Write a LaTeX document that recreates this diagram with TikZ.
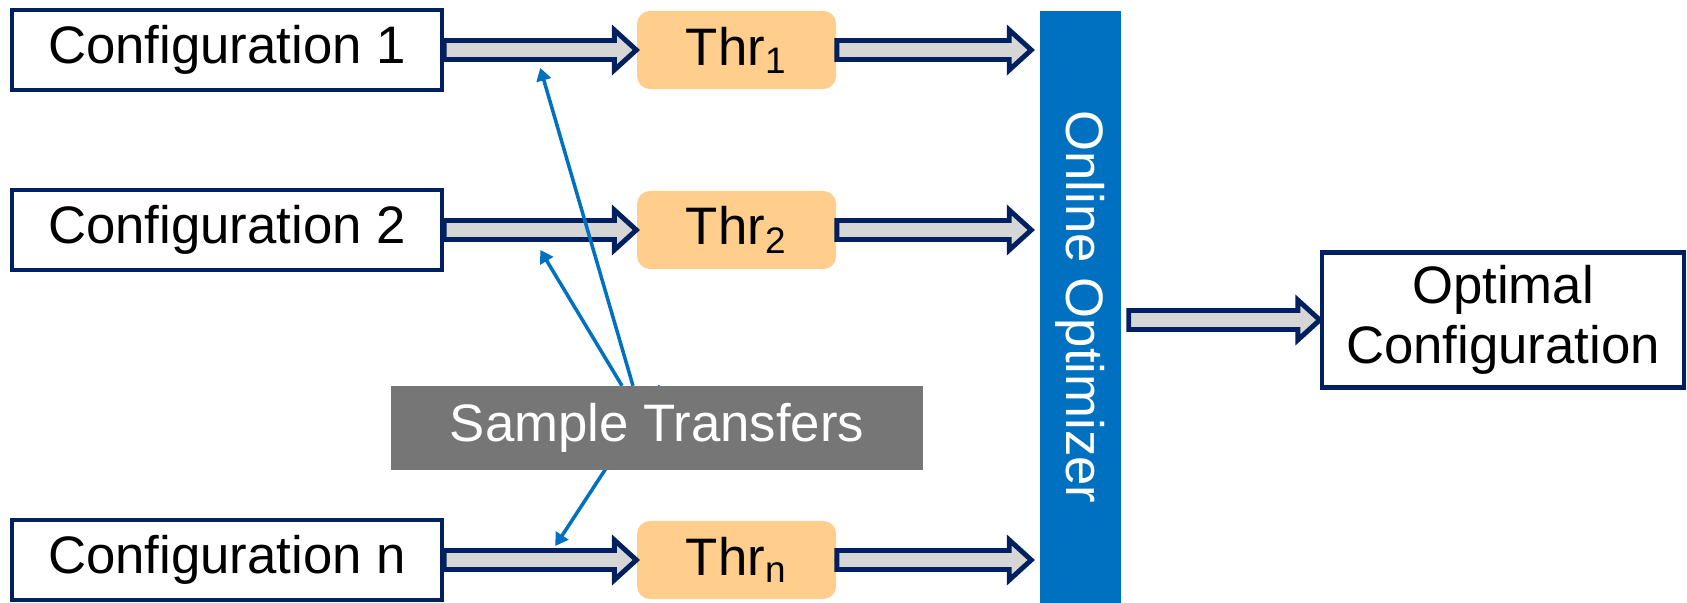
\documentclass[tikz,border=0pt]{standalone}
\usepackage{fontspec}
\setmainfont{Liberation Sans}
\usetikzlibrary{positioning,calc,arrows.meta}

\definecolor{navy}{RGB}{0,32,96}
\definecolor{shaft}{RGB}{214,214,214}
\definecolor{thrfill}{RGB}{255,205,140}
\definecolor{optblue}{RGB}{0,112,192}
\definecolor{samplegray}{RGB}{118,118,118}

% layer for the box that covers the transfer lines
\pgfdeclarelayer{front}
\pgfsetlayers{main,front}

% wide hollow arrow: #1 = start, #2 = tip (units are 0.01cm)
\newcommand{\fatarrow}[2]{%
  \draw[fatarrow] ($(#1)+(0,-9.5)$) -- ($(#2)+(-22,-9.5)$) -- ($(#2)+(-22,-20)$)
    -- (#2) -- ($(#2)+(-22,20)$) -- ($(#2)+(-22,9.5)$) -- ($(#1)+(0,9.5)$) -- cycle;
}

\begin{document}
\begin{tikzpicture}[x=0.01cm, y=-0.01cm, font=\fontsize{15}{17}\selectfont]
% Definition of blocks:
\tikzset{%
  config/.style    = {draw=navy, line width=1.2pt, fill=white, rectangle, minimum width=4.3cm, minimum height=0.8cm, inner sep=0pt},
  thr/.style       = {fill=thrfill, rectangle, rounded corners=0.13cm, minimum width=1.99cm, minimum height=0.78cm, inner sep=0pt},
  optbar/.style    = {fill=optblue, text=white, minimum width=0.81cm, minimum height=5.92cm, inner sep=0pt},
  sample/.style    = {fill=samplegray, text=white, minimum width=5.32cm, minimum height=0.83cm, inner sep=0pt},
  fatarrow/.style  = {draw=navy, fill=shaft, line width=1.4pt, line join=miter},
  transfer/.style  = {draw=optblue, line width=1pt, -{Triangle[length=3.6pt,width=4.2pt]}}
}
\useasboundingbox (0,0) rectangle (1687,603);

\node [config] (conf1) at (227,50) {Configuration 1};
\node [config] (conf2) at (227,230) {Configuration 2};
\node [config] (confn) at (227,560) {Configuration n};

\node [thr, right = 1.92cm of conf1] (thr1) {Thr\textsubscript{1}};
\node [thr, right = 1.92cm of conf2] (thr2) {Thr\textsubscript{2}};
\node [thr, right = 1.92cm of confn] (thrn) {Thr\textsubscript{n}};

\node [optbar] (opt) at (1080.5,307) {\rotatebox{-90}{Online Optimizer}};
\node [config, minimum width=3.62cm, minimum height=1.35cm, align=center] (best) at (1503,320) {Optimal\\Configuration};

% free ends next to the optimizer bar
\coordinate (in1) at ($(opt.west |- thr1.east)+(-8,0)$);
\coordinate (in2) at ($(opt.west |- thr2.east)+(-8,0)$);
\coordinate (inn) at ($(opt.west |- thrn.east)+(-8,0)$);
\coordinate (out) at ($(opt.east |- best.west)+(7,0)$);

\fatarrow{conf1.east}{thr1.west}
\fatarrow{conf2.east}{thr2.west}
\fatarrow{confn.east}{thrn.west}
\fatarrow{thr1.east}{in1}
\fatarrow{thr2.east}{in2}
\fatarrow{thrn.east}{inn}
\fatarrow{out}{best.west}

\begin{pgfonlayer}{front}
\node [sample] (sample) at (657,428) {Sample Transfers};
\end{pgfonlayer}

% where the transfers land
\coordinate (hit1) at ($(conf1.east)!0.5!(thr1.west)+(0,18)$);
\coordinate (hit2) at ($(conf2.east)!0.5!(thr2.west)+(0,20)$);
\coordinate (hitn) at ($(confn.east)!0.5!(thrn.west)+(15,-14)$);

\draw[transfer] ($(sample.north)+(-24,0)$) -- (hit1);
\draw[transfer] ($(sample.north)+(-35,0)$) -- (hit2);
\draw[transfer] ($(sample.north)+(3,0)$) -- (hitn);

\end{tikzpicture}
\end{document}
